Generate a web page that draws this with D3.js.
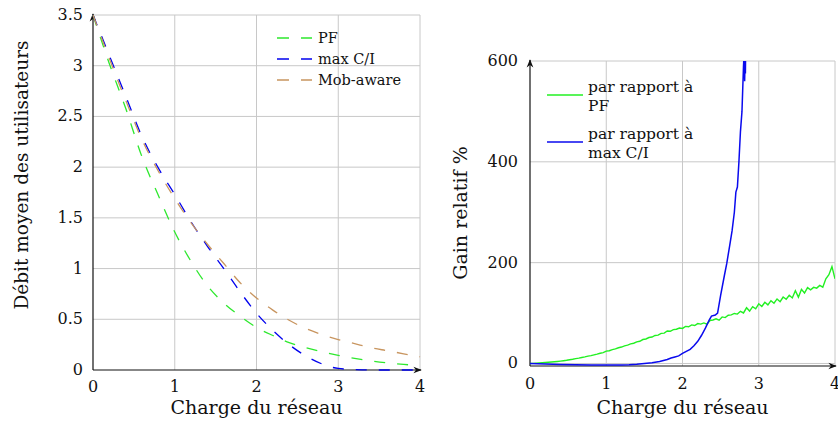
<!DOCTYPE html>
<html><head><meta charset="utf-8">
<script src="https://cdn.jsdelivr.net/npm/d3@7"></script>
<style>
body{margin:0;background:#fff;}
svg text{font-family:"DejaVu Serif",serif;fill:#111;}
</style></head>
<body><svg id="c" width="838" height="425"></svg>
<script>
// ---------- Left chart data ----------
const loadX = [0,0.2,0.4,0.6,0.8,1.0,1.2,1.4,1.6,1.8,2.0,2.2,2.4,2.6,2.8,3.0,3.2,3.4,3.6,3.8,4.0];
const pfRate  = [3.5,3.02,2.58,2.1,1.72,1.36,1.07,0.83,0.66,0.53,0.42,0.34,0.27,0.22,0.18,0.145,0.115,0.09,0.07,0.055,0.045];
const maxciRate = [3.5,3.1,2.7,2.3,1.99,1.73,1.46,1.22,1.0,0.77,0.56,0.39,0.25,0.14,0.06,0.015,0.005,0,0,0,0];
const mobRate = [3.5,3.07,2.66,2.27,1.96,1.69,1.45,1.24,1.05,0.86,0.71,0.59,0.49,0.41,0.35,0.3,0.26,0.22,0.19,0.16,0.13];
const leftYTicks = [0,0.5,1,1.5,2,2.5,3,3.5];
const xTicks = [0,1,2,3,4];
const leftLegend = ["PF","max C/I","Mob-aware"];

// ---------- Right chart data ----------
const gainPFStep = 0.04;
const gainPF = [0,0.3,0.6,1.0,1.4,1.8,2.3,2.8,3.4,4.0,4.7,5.5,6.3,7.5,8.4,9.6,10.6,11.9,13.0,14.5,15.6,17.2,18.5,20.3,21.6,24.5,25.3,27.5,29.0,31.2,32.6,35.0,36.4,38.8,40.2,42.8,44.1,47.5,48.6,51.5,52.4,55.6,56.2,59.8,60.3,64.5,63.8,67.2,68.0,70.4,69.5,73.6,72.8,76.5,75.4,79.2,78.1,80.5,78.0,85.3,86.2,88.5,86.0,92.4,91.0,95.8,96.5,99.2,98.0,103.5,100.2,110.5,104.0,112.8,108.5,118.4,113.0,121.5,116.2,124.6,119.5,128.0,122.5,131.8,127.4,135.2,130.0,144.5,131.6,147.0,139.8,150.5,146.2,151.0,149.5,154.8,151.4,168.0,176.0,192.0,168.0];
const gainCIX = [0,0.2,0.4,0.6,0.8,1.0,1.2,1.3,1.4,1.5,1.6,1.7,1.8,1.85,1.9,1.95,2.0,2.05,2.1,2.15,2.2,2.25,2.3,2.35,2.38,2.43,2.46,2.5,2.55,2.58,2.62,2.65,2.68,2.7,2.72,2.74,2.76,2.78,2.8,2.81,2.815,2.82,2.825,2.83];
const gainCI  = [0,-1,-2,-2.5,-3,-3,-3,-2.5,-1.5,0,1.5,4,8,11,13,15,20,24,28,35,44,56,70,86,94,96,100,135,175,198,235,263,300,340,350,400,460,500,590,620,560,600,575,660];
const rightYTicks = [0,200,400,600];
const rightLegend = [["par rapport à","PF"],["par rapport à","max C/I"]];

const svg = d3.select("#c");
const gridCol = "#c8c8c8";

function arrowDefs(){
  const defs = svg.append("defs");
  defs.append("marker").attr("id","arr").attr("viewBox","0 0 10 10").attr("refX",9).attr("refY",5)
    .attr("markerWidth",7).attr("markerHeight",7).attr("orient","auto-start-reverse")
    .append("path").attr("d","M0,1 L10,5 L0,9 L3,5 Z").attr("fill","#111");
  defs.append("clipPath").attr("id","clipR").append("rect").attr("x",530).attr("y",61).attr("width",305).attr("height",305);
}
arrowDefs();

// ---------- Left chart ----------
{
  const x = d3.scaleLinear().domain([0,4]).range([93,420]);
  const y = d3.scaleLinear().domain([0,3.5]).range([370,15]);
  const g = svg.append("g");
  g.selectAll(".gx").data(xTicks.filter(d=>d>0)).join("line")
    .attr("x1",d=>x(d)).attr("x2",d=>x(d)).attr("y1",y(0)).attr("y2",y(3.5))
    .attr("stroke",gridCol).attr("stroke-width",1);
  g.selectAll(".gy").data(leftYTicks.filter(d=>d>0)).join("line")
    .attr("x1",x(0)).attr("x2",x(4)).attr("y1",d=>y(d)).attr("y2",d=>y(d))
    .attr("stroke",gridCol).attr("stroke-width",1);
  g.selectAll(".ty").data(leftYTicks).join("text")
    .attr("x",83).attr("y",d=>y(d)+5).attr("text-anchor","end").attr("font-size",16).text(d=>d);
  g.selectAll(".tx").data(xTicks).join("text")
    .attr("x",d=>x(d)).attr("y",392).attr("text-anchor","middle").attr("font-size",16).text(d=>d);
  g.append("line").attr("x1",x(0)).attr("x2",x(0)).attr("y1",y(0)).attr("y2",y(3.5)-1)
    .attr("stroke","#111").attr("stroke-width",1.2).attr("marker-end","url(#arr)");
  g.append("line").attr("x1",x(0)).attr("x2",x(4)+1).attr("y1",y(0)).attr("y2",y(0))
    .attr("stroke","#111").attr("stroke-width",1.2).attr("marker-end","url(#arr)");
  const series = [
    {vals:pfRate, col:"#2ee82e"},
    {vals:maxciRate, col:"#0000ee"},
    {vals:mobRate, col:"#c8955f"}
  ];
  const line = d3.line().x((d,i)=>x(loadX[i])).y(d=>y(d)).curve(d3.curveMonotoneX);
  series.forEach(s=>{
    g.append("path").attr("d",line(s.vals)).attr("fill","none").attr("stroke",s.col)
      .attr("stroke-width",1.3).attr("stroke-dasharray","11,12");
  });
  leftLegend.forEach((t,i)=>{
    const yy = 38 + i*21;
    g.append("path").attr("d",`M277,${yy}H312`).attr("stroke",series[i].col).attr("stroke-width",1.3)
      .attr("stroke-dasharray","12,12").attr("fill","none");
    g.append("text").attr("x",318).attr("y",yy+5).attr("font-size",14.5).text(t);
  });
  g.append("text").attr("x",x(2)).attr("y",414).attr("text-anchor","middle").attr("font-size",19).text("Charge du réseau");
  g.append("text").attr("transform","translate(28,175) rotate(-90)").attr("text-anchor","middle").attr("font-size",18.5).text("Débit moyen des utilisateurs");
}

// ---------- Right chart ----------
{
  const x = d3.scaleLinear().domain([0,4]).range([530,835]);
  const y = d3.scaleLinear().domain([-5,600]).range([366,61]);
  const g = svg.append("g");
  g.selectAll(".gx").data(xTicks.filter(d=>d>0)).join("line")
    .attr("x1",d=>x(d)).attr("x2",d=>x(d)).attr("y1",y(-5)).attr("y2",y(600))
    .attr("stroke",gridCol).attr("stroke-width",1);
  g.selectAll(".gy").data(rightYTicks).join("line")
    .attr("x1",x(0)).attr("x2",x(4)).attr("y1",d=>y(d)).attr("y2",d=>y(d))
    .attr("stroke",gridCol).attr("stroke-width",1);
  g.selectAll(".ty").data(rightYTicks).join("text")
    .attr("x",518).attr("y",d=>y(d)+5).attr("text-anchor","end").attr("font-size",16).text(d=>d);
  g.selectAll(".tx").data(xTicks).join("text")
    .attr("x",d=>x(d)).attr("y",389).attr("text-anchor","middle").attr("font-size",16).text(d=>d);
  g.append("line").attr("x1",x(0)).attr("x2",x(0)).attr("y1",y(-5)).attr("y2",y(600)-1)
    .attr("stroke","#111").attr("stroke-width",1.2).attr("marker-end","url(#arr)");
  g.append("line").attr("x1",x(0)).attr("x2",x(4)+1).attr("y1",y(-5)).attr("y2",y(-5))
    .attr("stroke","#111").attr("stroke-width",1.2).attr("marker-end","url(#arr)");
  const lg = g.append("g").attr("clip-path","url(#clipR)");
  const l1 = d3.line().x((d,i)=>x(i*gainPFStep)).y(d=>y(d));
  lg.append("path").attr("d",l1(gainPF)).attr("fill","none").attr("stroke","#22f022").attr("stroke-width",1.4);
  const l2 = d3.line().x((d,i)=>x(gainCIX[i])).y(d=>y(d));
  lg.append("path").attr("d",l2(gainCI)).attr("fill","none").attr("stroke","#0a0aee").attr("stroke-width",1.5);
  const cols = ["#22f022","#0a0aee"];
  rightLegend.forEach((t,i)=>{
    const yy = 95 + i*47;
    g.append("line").attr("x1",547).attr("x2",583).attr("y1",yy).attr("y2",yy).attr("stroke",cols[i]).attr("stroke-width",1.4);
    g.append("text").attr("x",588).attr("y",yy-3).attr("font-size",15.5).text(t[0]);
    g.append("text").attr("x",588).attr("y",yy+16).attr("font-size",15.5).text(t[1]);
  });
  g.append("text").attr("x",x(2)).attr("y",414).attr("text-anchor","middle").attr("font-size",19).text("Charge du réseau");
  g.append("text").attr("transform","translate(467,213) rotate(-90)").attr("text-anchor","middle").attr("font-size",19).text("Gain relatif %");
}
</script></body></html>
